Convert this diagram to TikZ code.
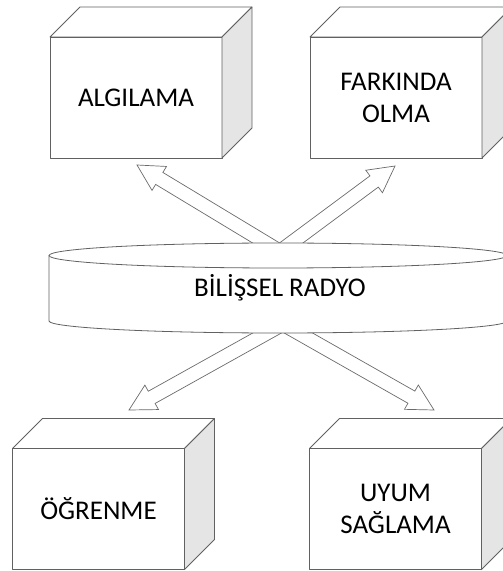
\documentclass[tikz,border=0pt]{standalone}
\usepackage{fontspec}
\setmainfont{Carlito}
\usetikzlibrary{calc}

% hollow block arrow from #1 (tail) to #2 (tip)
\newcommand\blockarrow[2]{%
  \coordinate (#1-h) at ($(#2)!26pt!(#1)$);
  \draw[arrowline]
    ($(#1)!7pt!90:(#2)$) -- ($(#1-h)!7pt!-90:(#1)$) -- ($(#1-h)!14pt!-90:(#1)$)
    -- (#2) -- ($(#1-h)!14pt!90:(#1)$) -- ($(#1-h)!7pt!90:(#1)$)
    -- ($(#1)!7pt!-90:(#2)$) -- cycle;
}

\begin{document}
\begin{tikzpicture}[x=1pt,y=1pt,
  edge/.style={draw=black!62, line width=0.8pt, line join=round},
  front/.style={edge, fill=white, minimum width=172pt, minimum height=121pt,
    inner sep=0pt, outer sep=0pt, align=center,
    font=\fontsize{27}{32}\selectfont},
  arrowline/.style={draw=black!58, line width=0.7pt, fill=white, line join=miter},
  label/.style={font=\fontsize{27}{32}\selectfont}]
\useasboundingbox (0,0) rectangle (503,571);
\clip (0,0) rectangle (503,571);

% a box = front face node, then its top and right faces
\newcommand\cube[1]{%
  \draw[edge, fill=white] (#1.north west) -- ++(30,30) -- ++(172,0) -- (#1.north east) -- cycle;
  \draw[edge, fill=black!10] (#1.north east) -- ++(30,30) -- ++(0,-121) -- (#1.south east) -- cycle;
}

\node[front] (alg) at (136,473.5) {ALGILAMA};
\cube{alg}
\node[front] (fark) at (396,473.5) {FARKINDA\\OLMA};
\cube{fark}
\node[front] (ogr) at (98.5,62) {ÖĞRENME};
\cube{ogr}
\node[front] (uyum) at (395.5,62) {UYUM\\SAĞLAMA};
\cube{uyum}

% arrows leaving the cylinder (tails hidden under it)
\coordinate (ulT) at (291,313);  \coordinate (ulP) at (137,406);
\coordinate (urT) at (271,313);  \coordinate (urP) at (395,405);
\coordinate (dlT) at (294,253);  \coordinate (dlP) at (129,161);
\coordinate (drT) at (272,253);  \coordinate (drP) at (434,161);
\blockarrow{ulT}{ulP}
\blockarrow{urT}{urP}
\blockarrow{dlT}{dlP}
\blockarrow{drT}{drP}

% cylinder
\path[edge, fill=white] (49,315.5) -- (49,250)
  arc[start angle=180, end angle=360, x radius=229, y radius=12]
  -- (507,315.5)
  arc[start angle=0, end angle=180, x radius=229, y radius=12.5] -- cycle;
\draw[edge] (49,315.5) arc[start angle=180, end angle=360, x radius=229, y radius=12.5];
\node[label] (radio) at (280,283) {BİLİŞSEL RADYO};
\end{tikzpicture}
\end{document}
